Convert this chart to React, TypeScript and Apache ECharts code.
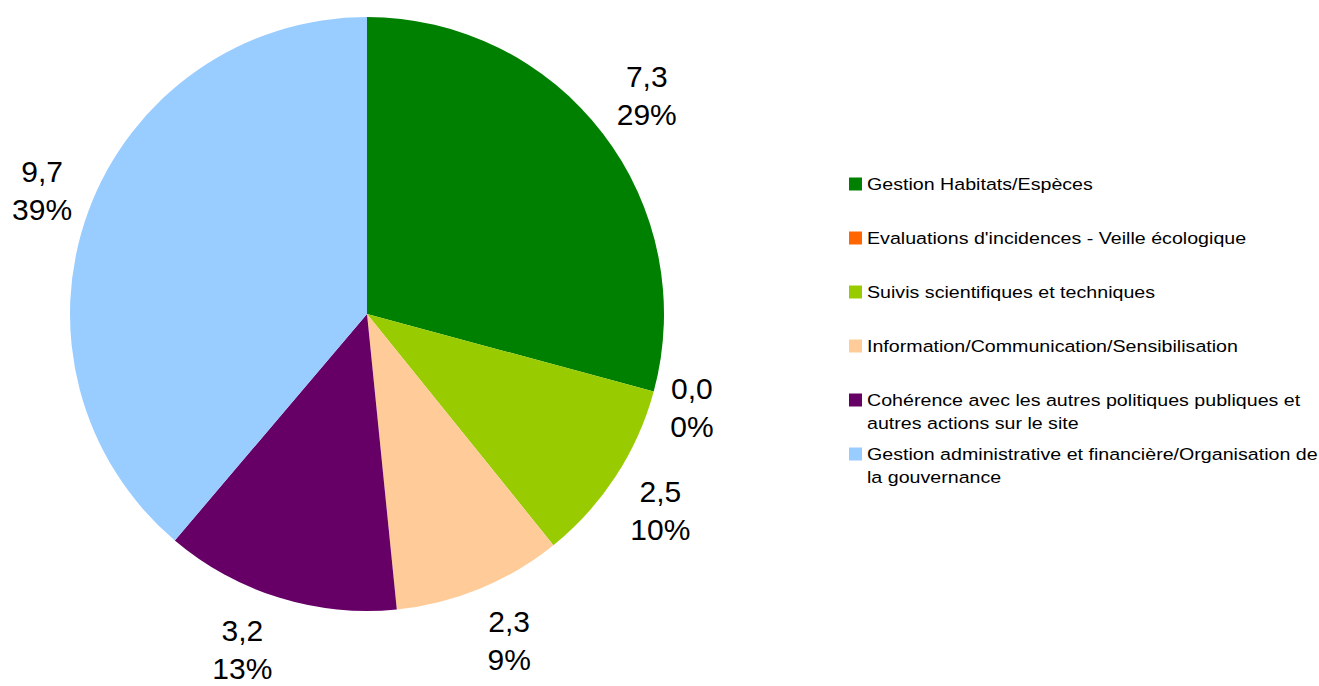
import React, { useEffect, useRef } from "react";
import * as echarts from "echarts";

const categories = [
  "Gestion Habitats/Espèces",
  "Evaluations d'incidences - Veille écologique",
  "Suivis scientifiques et techniques",
  "Information/Communication/Sensibilisation",
  "Cohérence avec les autres politiques publiques et autres actions sur le site",
  "Gestion administrative et financière/Organisation de la gouvernance",
];
const legendLabels = [
  "Gestion Habitats/Espèces",
  "Evaluations d'incidences - Veille écologique",
  "Suivis scientifiques et techniques",
  "Information/Communication/Sensibilisation",
  "Cohérence avec les autres politiques publiques et\nautres actions sur le site",
  "Gestion administrative et financière/Organisation de\nla gouvernance",
];
const values = [7.3, 0.0, 2.5, 2.3, 3.2, 9.7];
const colors = ["#008000", "#ff6600", "#99cc00", "#ffcc99", "#660066", "#99ccff"];

const FONT = "'Liberation Sans', Arial, sans-serif";
const CX = 367;
const CY = 314;
const R = 297;
const LABEL_GAP = 15;

export default function App() {
  const ref = useRef<HTMLDivElement>(null);
  useEffect(() => {
    document.body.style.margin = "0";
    if (!ref.current) return;
    const chart = echarts.init(ref.current, null, { renderer: "svg" });
    const total = values.reduce((a, b) => a + b, 0);
    const cum: number[] = [];
    let acc = 0;
    values.forEach((v) => {
      cum.push(acc);
      acc += v;
    });

    const legendGraphics: any[] = [];
    const legendTop = 184;
    const legendStep = 54;
    legendLabels.forEach((lab, i) => {
      const yc = legendTop + i * legendStep;
      legendGraphics.push({
        type: "rect",
        shape: { x: 849, y: yc - 6.5, width: 13, height: 13 },
        style: { fill: colors[i] },
        silent: true,
      });
      legendGraphics.push({
        type: "text",
        x: 867,
        y: yc - 11.5,
        scaleX: 1.155,
        style: {
          text: lab,
          fill: "#000",
          font: `17px ${FONT}`,
          lineHeight: 23,
          verticalAlign: "top",
          align: "left",
        },
        silent: true,
      });
    });

    chart.setOption({
      animation: false,
      backgroundColor: "#fff",
      graphic: legendGraphics,
      series: [
        {
          type: "pie",
          center: [CX, CY],
          radius: [0, R],
          startAngle: 90,
          clockwise: true,
          silent: true,
          avoidLabelOverlap: false,
          minShowLabelAngle: -1,
          stillShowZeroSum: true,
          itemStyle: { borderWidth: 0 },
          emphasis: { disabled: true },
          labelLine: { show: false, length: 10, length2: 0 },
          label: {
            show: true,
            position: "outside",
            color: "#000",
            fontFamily: FONT,
            fontSize: 30,
            lineHeight: 38,
            formatter: (p: any) =>
              `${values[p.dataIndex].toFixed(1).replace(".", ",")}\n${Math.round(
                (values[p.dataIndex] / total) * 100
              )}%`,
          },
          labelLayout: (p: any) => {
            const i = p.dataIndex;
            const mid = ((90 - (360 * (cum[i] + values[i] / 2)) / total) * Math.PI) / 180;
            const c = Math.cos(mid);
            const s = Math.sin(mid);
            const d = R + LABEL_GAP;
            const ax = CX + c * d;
            const ay = CY - s * d;
            const w = p.labelRect.width;
            const h = p.labelRect.height;
            const ky = Math.max(-1, Math.min(1, 1.25 * s));
            return {
              x: ax + Math.sign(c) * (w / 2 + 2),
              y: ay - (h / 2) * ky,
              align: "center",
              verticalAlign: "middle",
            };
          },
          data: categories.map((name, i) => ({
            name,
            value: values[i],
            itemStyle: { color: colors[i] },
          })),
        },
      ],
    });
    return () => chart.dispose();
  }, []);
  return <div ref={ref} style={{ width: 1319, height: 686 }} />;
}
